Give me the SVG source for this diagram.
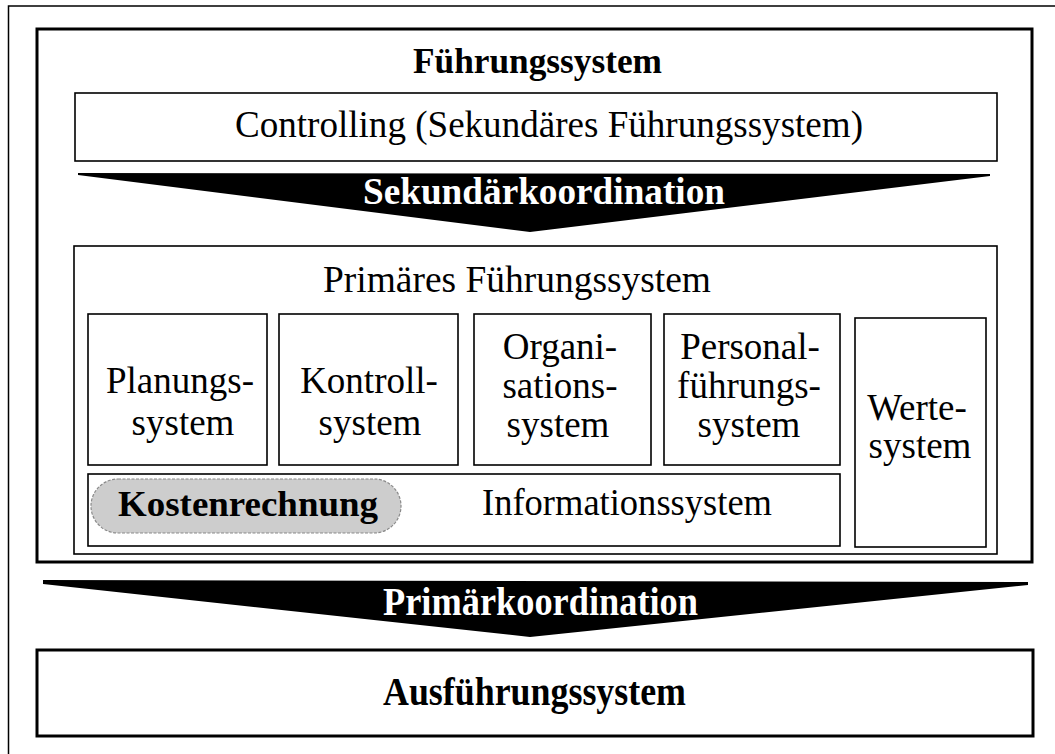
<svg xmlns="http://www.w3.org/2000/svg" width="1055" height="754" viewBox="0 0 1055 754">
<style>
.t{font-family:"Liberation Serif","Times New Roman",serif;fill:#000}
.b{font-weight:bold}
.w{fill:#fff}
.box{fill:#fff;stroke:#000;stroke-width:1.6}
.mid{text-anchor:middle}
.s37{font-size:37px}
</style>
<rect id="page" x="0" y="0" width="1055" height="754" fill="#fff"/>
<rect id="outer-frame" x="8.5" y="6" width="1060" height="760" fill="none" stroke="#000" stroke-width="1.5"/>
<g id="fuehrungssystem">
<rect x="37" y="29" width="995" height="533" fill="none" stroke="#000" stroke-width="3"/>
<text class="t b" x="413" y="73" font-size="36" textLength="249" lengthAdjust="spacingAndGlyphs">Führungssystem</text>
</g>
<g id="controlling">
<rect class="box" x="75" y="93" width="922" height="68" stroke-width="2"/>
<text class="t" x="235" y="137" font-size="37" textLength="628" lengthAdjust="spacingAndGlyphs">Controlling (Sekundäres Führungssystem)</text>
</g>
<g id="connectors">
<g id="sekundaerkoordination">
<polygon points="78,173 990,174 990,176 530,232 78,175" fill="#000"/>
<text class="t b w" x="363" y="204" font-size="38" textLength="362" lengthAdjust="spacingAndGlyphs">Sekundärkoordination</text>
</g>
<g id="primaerkoordination">
<polygon points="43,580 1028,582 1028,585 530,637 43,584" fill="#000"/>
<text class="t b w" x="383" y="615" font-size="40" textLength="315" lengthAdjust="spacingAndGlyphs">Primärkoordination</text>
</g>
</g>
<g id="primaeres">
<rect class="box" x="74" y="246" width="923" height="308" stroke-width="2"/>
<text class="t" x="323" y="292" font-size="37" textLength="388" lengthAdjust="spacingAndGlyphs">Primäres Führungssystem</text>
</g>
<g id="planung">
<rect class="box" x="88" y="314" width="179" height="151"/>
<text class="t mid s37" x="180" y="393">Planungs-</text>
<text class="t mid s37" x="183" y="435">system</text>
</g>
<g id="kontroll">
<rect class="box" x="279" y="314" width="179" height="151"/>
<text class="t mid s37" x="369" y="393">Kontroll-</text>
<text class="t mid s37" x="370" y="435">system</text>
</g>
<g id="organisation">
<rect class="box" x="474" y="314" width="177" height="151"/>
<text class="t mid s37" x="560" y="359">Organi-</text>
<text class="t mid s37" x="560" y="398">sations-</text>
<text class="t mid s37" x="558" y="437">system</text>
</g>
<g id="personal">
<rect class="box" x="664" y="314" width="176" height="151"/>
<text class="t mid s37" x="750" y="359">Personal-</text>
<text class="t mid s37" x="749" y="398">führungs-</text>
<text class="t mid s37" x="749" y="437">system</text>
</g>
<g id="werte">
<rect class="box" x="855" y="318" width="131" height="229"/>
<text class="t mid s37" x="917" y="420">Werte-</text>
<text class="t mid s37" x="920" y="458">system</text>
</g>
<g id="information">
<rect class="box" x="88" y="474" width="752" height="72"/>
<rect id="kostenrechnung" x="91" y="479" width="310" height="54" rx="27" ry="27" fill="#cdcdcd" stroke="#8a8a8a" stroke-width="1.2" stroke-dasharray="3 1.5"/>
<text class="t b" x="118" y="516" font-size="36" textLength="260" lengthAdjust="spacingAndGlyphs">Kostenrechnung</text>
<text class="t" x="482" y="515" font-size="37" textLength="290" lengthAdjust="spacingAndGlyphs">Informationssystem</text>
</g>
<g id="ausfuehrung">
<rect x="37" y="650" width="996" height="86" fill="#fff" stroke="#000" stroke-width="3"/>
<text class="t b" x="383" y="705" font-size="39" textLength="303" lengthAdjust="spacingAndGlyphs">Ausführungssystem</text>
</g>
</svg>
